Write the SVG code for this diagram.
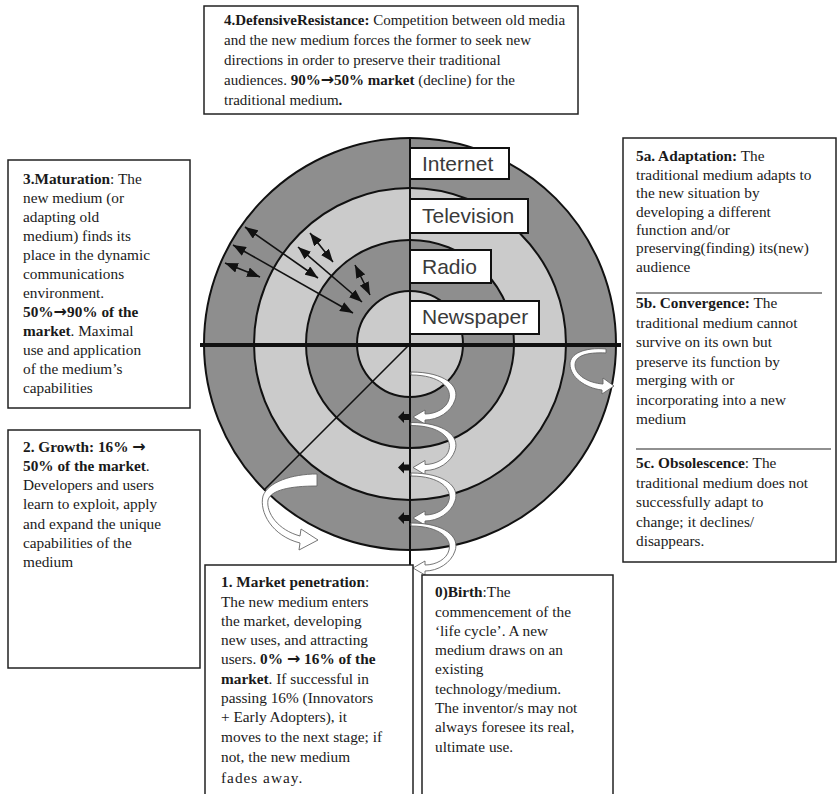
<svg xmlns="http://www.w3.org/2000/svg" width="838" height="794" viewBox="0 0 838 794">
<defs>
<marker id="ah" viewBox="0 0 13 10" refX="13" refY="5" markerWidth="13" markerHeight="10" markerUnits="userSpaceOnUse" orient="auto-start-reverse">
<path d="M0,0 L13,5 L0,10 Z" fill="#111"/>
</marker>
<style>
.box{fill:#fff;stroke:#222;stroke-width:1.5}
.t{font-family:"Liberation Serif","Times New Roman",serif;font-size:15.3px;fill:#1a1a1a}
.t4{font-size:15px}
.b{font-weight:bold}
.arw{font-family:"DejaVu Sans",sans-serif;font-size:16px}
.lbl{fill:#fff;stroke:#111;stroke-width:2}
.lt{font-family:"Liberation Sans",Arial,sans-serif;font-size:21px;fill:#3a3a3a}
.dk{fill:#8e8e8e;stroke:#111;stroke-width:2}
.lg{fill:#cbcbcb;stroke:#111;stroke-width:2}
.ar{stroke:#111;stroke-width:1.6;fill:none;marker-start:url(#ah);marker-end:url(#ah)}
.curl{fill:#fff;stroke:#666;stroke-width:0.9}
.sep{stroke:#222;stroke-width:1.2}
</style>
</defs>

<g id="rings">
<circle class="dk" cx="410" cy="344" r="206"/>
<circle class="lg" cx="410" cy="344" r="156"/>
<circle class="dk" cx="410" cy="344" r="104"/>
<circle class="lg" cx="410" cy="344" r="53"/>
<line x1="410" y1="138" x2="410" y2="566" stroke="#111" stroke-width="2"/>
<line x1="410" y1="344" x2="264" y2="490" stroke="#111" stroke-width="1.6"/>
<line x1="200" y1="345" x2="621" y2="345" stroke="#111" stroke-width="4"/>
</g>

<g id="label-internet"><rect class="lbl" x="410" y="148" width="99" height="31"/><text class="lt" x="422" y="171">Internet</text></g>
<g id="label-television"><rect class="lbl" x="410" y="199" width="118" height="34"/><text class="lt" x="422" y="223">Television</text></g>
<g id="label-radio"><rect class="lbl" x="410" y="250" width="81" height="33"/><text class="lt" x="422" y="274">Radio</text></g>
<g id="label-newspaper"><rect class="lbl" x="410" y="301" width="129" height="33"/><text class="lt" x="422" y="324">Newspaper</text></g>

<g id="connectors">
<line class="ar" x1="225" y1="263" x2="260" y2="277"/>
<line class="ar" x1="245" y1="227" x2="318" y2="278"/>
<line class="ar" x1="233" y1="245" x2="353" y2="313"/>
<line class="ar" x1="310" y1="233" x2="333" y2="262"/>
<line class="ar" x1="298" y1="247" x2="362" y2="302"/>
<line class="ar" x1="355" y1="265" x2="370" y2="295"/>

<g id="coils">
<path id="coil" class="curl" d="M411 372 C445 372 460 386 455 400 C451 412 438 420 425 420 L425 424 L413 417 L425 410 L425 414 C436 414 447 408 449 399 C452 388 440 375 411 375 Z"/>
<use href="#coil" y="50.5"/>
<use href="#coil" y="101"/>
<use href="#coil" y="151"/>
</g>
<g id="black-arrows" fill="#111">
<path id="ba" d="M398 417 L404 411 L404 414 L409 414 L409 420 L404 420 L404 423 Z"/>
<use href="#ba" y="50.5"/>
<use href="#ba" y="101"/>
</g>
<path class="curl" d="M606 349 C584 347 570 354 570 364 C570 377 585 388 602 390 L602 394 L614 386 L603 378 L603 384 C588 383 575 375 575 365 C575 356 586 352 606 353 Z"/>
<path class="curl" d="M317 474 C292 474 268 482 263 496 C259 512 272 536 300 543 L299 550 L318 540 L301 529 L300 536 C278 530 266 513 268 500 C271 490 290 486 317 486 Z"/>
</g>

<g id="box4">
<rect class="box" x="204" y="6" width="374" height="108"/>
<text class="t t4" x="224" y="25"><tspan class="b">4.DefensiveResistance:</tspan> Competition between old media</text>
<text class="t t4" x="224" y="45">and the new medium  forces the former to seek new</text>
<text class="t t4" x="224" y="65">directions in order to preserve their traditional</text>
<text class="t t4" x="224" y="85">audiences. <tspan class="b">90%<tspan class="arw">→</tspan>50% market</tspan> (decline) for the</text>
<text class="t t4" x="224" y="105">traditional medium<tspan class="b">.</tspan></text>
</g>

<g id="box3">
<rect class="box" x="8" y="160" width="182" height="248"/>
<text class="t" x="23" y="184"><tspan class="b">3.Maturation</tspan>: The</text>
<text class="t" x="23" y="203">new medium (or</text>
<text class="t" x="23" y="222">adapting old</text>
<text class="t" x="23" y="241">medium) finds its</text>
<text class="t" x="23" y="260">place in the dynamic</text>
<text class="t" x="23" y="279">communications</text>
<text class="t" x="23" y="298">environment.</text>
<text class="t b" x="23" y="317">50%<tspan class="arw">→</tspan>90% of the</text>
<text class="t" x="23" y="336"><tspan class="b">market</tspan>. Maximal</text>
<text class="t" x="23" y="355">use and application</text>
<text class="t" x="23" y="374">of the medium’s</text>
<text class="t" x="23" y="393">capabilities</text>
</g>

<g id="box2">
<rect class="box" x="8" y="430" width="192" height="238"/>
<text class="t b" x="23" y="452">2. Growth: 16% <tspan class="arw">→</tspan></text>
<text class="t" x="23" y="471"><tspan class="b">50% of the market</tspan>.</text>
<text class="t" x="23" y="490">Developers and users</text>
<text class="t" x="23" y="509">learn to exploit, apply</text>
<text class="t" x="23" y="529">and expand the unique</text>
<text class="t" x="23" y="548">capabilities  of the</text>
<text class="t" x="23" y="567">medium</text>
</g>

<g id="box5">
<rect class="box" x="623" y="138" width="213" height="424"/>
<text class="t" x="636" y="161"><tspan class="b">5a. Adaptation:</tspan> The</text>
<text class="t" x="636" y="180">traditional medium adapts to</text>
<text class="t" x="636" y="198">the new situation by</text>
<text class="t" x="636" y="217">developing a different</text>
<text class="t" x="636" y="235">function and/or</text>
<text class="t" x="636" y="253">preserving(finding) its(new)</text>
<text class="t" x="636" y="272">audience</text>
<line class="sep" x1="636" y1="293" x2="822" y2="293"/>
<text class="t" x="636" y="308"><tspan class="b">5b. Convergence:</tspan> The</text>
<text class="t" x="636" y="328">traditional medium cannot</text>
<text class="t" x="636" y="347">survive on its own but</text>
<text class="t" x="636" y="367">preserve its function by</text>
<text class="t" x="636" y="385">merging with or</text>
<text class="t" x="636" y="405">incorporating into a new</text>
<text class="t" x="636" y="424">medium</text>
<line class="sep" x1="636" y1="449" x2="831" y2="449"/>
<text class="t" x="636" y="468"><tspan class="b">5c. Obsolescence</tspan>: The</text>
<text class="t" x="636" y="488">traditional medium does not</text>
<text class="t" x="636" y="507">successfully adapt to</text>
<text class="t" x="636" y="527">change; it declines/</text>
<text class="t" x="636" y="546">disappears.</text>
</g>

<g id="box1">
<rect class="box" x="205" y="565" width="208" height="240"/>
<text class="t" x="221" y="587"><tspan class="b">1. Market penetration</tspan>:</text>
<text class="t" x="221" y="607">The new medium  enters</text>
<text class="t" x="221" y="626">the market, developing</text>
<text class="t" x="221" y="645">new uses, and attracting</text>
<text class="t" x="221" y="664">users. <tspan class="b">0% <tspan class="arw">→</tspan> 16% of  the</tspan></text>
<text class="t" x="221" y="684"><tspan class="b">market</tspan>. If successful in</text>
<text class="t" x="221" y="703">passing 16% (Innovators</text>
<text class="t" x="221" y="722">+ Early Adopters), it</text>
<text class="t" x="221" y="742">moves to the next stage; if</text>
<text class="t" x="221" y="762">not, the new medium</text>
<text class="t" x="221" y="783" letter-spacing="1">fades away.</text>
</g>

<g id="box0">
<rect class="box" x="422" y="575" width="191" height="230"/>
<text class="t" x="435" y="597"><tspan class="b">0)Birth</tspan>:The</text>
<text class="t" x="435" y="617">commencement of the</text>
<text class="t" x="435" y="636">‘life cycle’. A new</text>
<text class="t" x="435" y="655">medium draws on an</text>
<text class="t" x="435" y="674">existing</text>
<text class="t" x="435" y="694">technology/medium.</text>
<text class="t" x="435" y="713">The inventor/s may not</text>
<text class="t" x="435" y="732">always foresee its real,</text>
<text class="t" x="435" y="752">ultimate use.</text>
</g>
</svg>
